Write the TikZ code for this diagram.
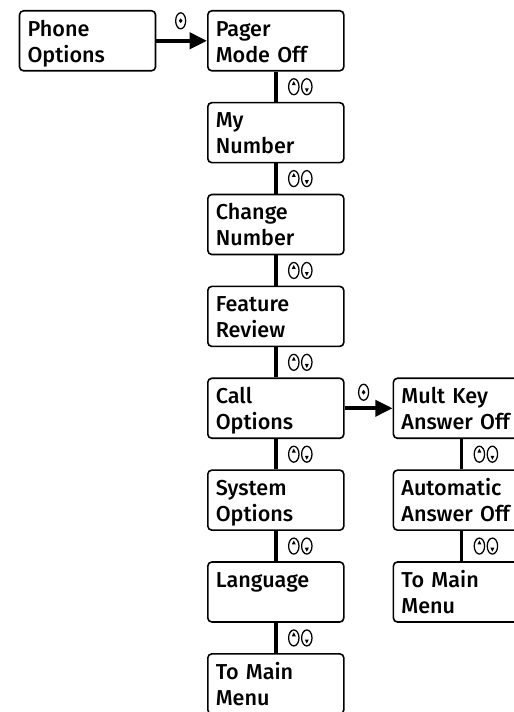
\documentclass[tikz,border=0pt]{standalone}
\usepackage{fontspec}
\setmainfont{Fira Sans Medium}
\usetikzlibrary{positioning,arrows.meta}

\tikzset{
  menubox/.style={draw, line width=1.2pt, rounded corners=3pt, align=left,
    text width=90pt, inner xsep=6pt, inner ysep=0pt, text height=19pt,
    text depth=26pt, font=\fontsize{16.2}{19.5}\selectfont, anchor=north west},
  link/.style={line width=2.7pt},
  go/.style={line width=3pt, -{Triangle[length=13pt,width=12pt]}},
  keyring/.style={line width=0.95pt},
  updown/.pic={
    \draw[keyring] (18,0) ellipse [x radius=5.2, y radius=8];
    \fill (18,-5.6) -- (16,-1.6) -- (20,-1.6) -- cycle;
    \draw[keyring] (31,0) ellipse [x radius=5.2, y radius=8];
    \fill (31,5.6) -- (29,1.6) -- (33,1.6) -- cycle;
  },
  select/.pic={
    \draw[keyring] (0,0) ellipse [x radius=5, y radius=8];
    \fill (0,-2.4) -- (1.9,0) -- (0,2.4) -- (-1.9,0) -- cycle;
  }
}

\begin{document}
\begin{tikzpicture}[x=0.75pt, y=-0.75pt, node distance=22.7pt]
  \useasboundingbox (0,0) rectangle (513,712);

  % Main menu column
  \node[menubox] (pager) at (207,10) {Pager\\Mode Off};
  \node[menubox, below=of pager] (mynum) {My\\Number};
  \node[menubox, below=of mynum] (chgnum) {Change\\Number};
  \node[menubox, below=of chgnum] (review) {Feature\\Review};
  \node[menubox, below=of review] (call) {Call\\Options};
  \node[menubox, below=of call] (system) {System\\Options};
  \node[menubox, below=of system] (lang) {Language};
  \node[menubox, below=of lang] (tomain) {To Main\\Menu};

  % Entry and call options submenu
  \node[menubox, left=38pt of pager] (phone) {Phone\\Options};
  \node[menubox, right=36pt of call] (multkey) {Mult Key\\Answer Off};
  \node[menubox, below=of multkey] (autoans) {Automatic\\Answer Off};
  \node[menubox, below=of autoans] (submain) {To Main\\Menu};

  % Select arrows
  \draw[go] (phone) -- (pager) coordinate[midway] (s1);
  \draw[go] (call) -- (multkey) coordinate[midway] (s2);
  \pic at ([shift={(-1,-20)}]s1) {select};
  \pic at ([shift={(-5,-16)}]s2) {select};

  % Scroll links
  \foreach \a/\b/\k in {pager/mynum/k1, mynum/chgnum/k2, chgnum/review/k3,
      review/call/k4, call/system/k5, system/lang/k6, lang/tomain/k7,
      multkey/autoans/k8, autoans/submain/k9} {
    \draw[link] (\a) -- (\b) coordinate[midway] (\k);
    \pic at (\k) {updown};
  }
\end{tikzpicture}
\end{document}
